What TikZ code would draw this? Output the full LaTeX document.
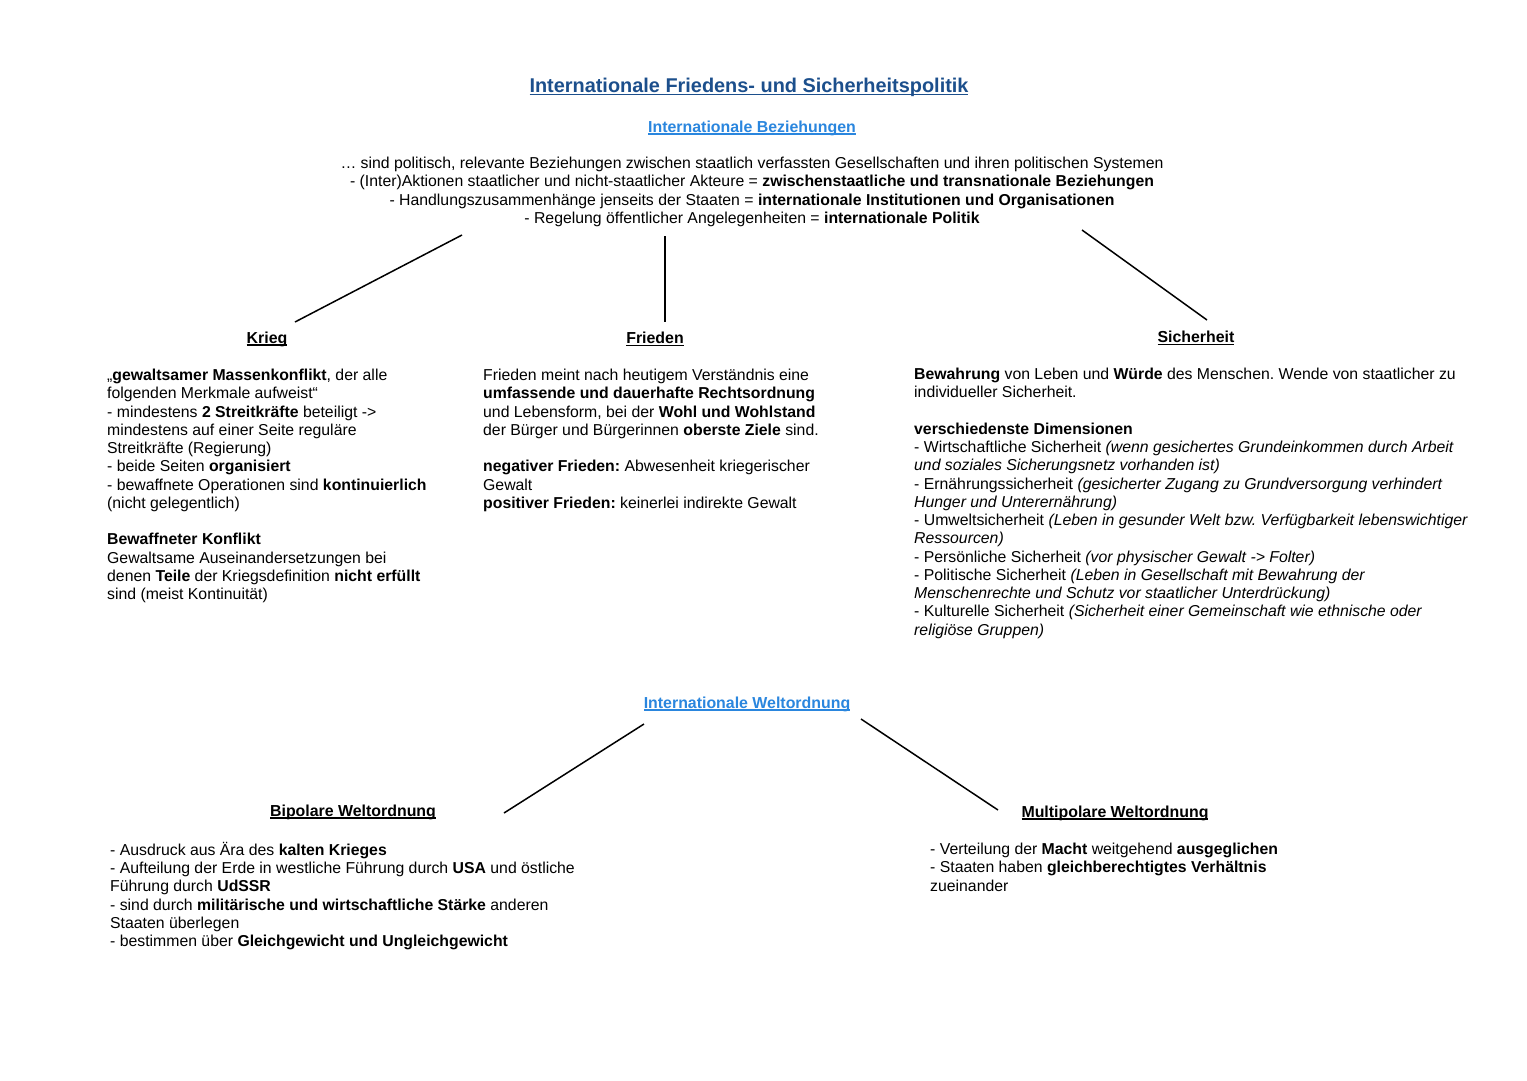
\documentclass[tikz,border=0pt]{standalone}
\usepackage{fontspec}
\setmainfont{Liberation Sans}
\frenchspacing
\definecolor{titleblue}{HTML}{1C4F8C}
\definecolor{subblue}{HTML}{2A86DE}
\newsavebox\ulbox
\newcommand\myul[2][1.4pt]{\sbox\ulbox{#2}\rlap{\rule[-2.8pt]{\wd\ulbox}{#1}}\usebox\ulbox}
\tikzset{
  body/.style={anchor=north west, inner sep=0pt, align=left, font=\fontsize{15.8}{18.25}\selectfont},
  intro/.style={anchor=north, inner sep=0pt, align=center, font=\fontsize{15.8}{18.2}\selectfont},
  head/.style={inner sep=0pt, font=\fontsize{15.9}{18}\selectfont\bfseries},
  bluehead/.style={head, text=subblue},
  link/.style={line width=1.5pt, black}
}
\begin{document}
\begin{tikzpicture}[x=1pt,y=-1pt]
\useasboundingbox[fill=white] (0,0) rectangle (1527,1080);

\node[inner sep=0pt, text=titleblue, font=\fontsize{19.9}{22}\selectfont\bfseries] (title) at (749,87) {\myul{Internationale Friedens- und Sicherheitspolitik}};
\node[bluehead] (ib) at (752,128) {\myul{Internationale Beziehungen}};

\node[intro] (introtext) at (752,157) {%
\dots\ sind politisch, relevante Beziehungen zwischen staatlich verfassten Gesellschaften und ihren politischen Systemen\\
- (Inter)Aktionen staatlicher und nicht-staatlicher Akteure = \textbf{zwischenstaatliche und transnationale Beziehungen}\\
- Handlungszusammenhänge jenseits der Staaten = \textbf{internationale Institutionen und Organisationen}\\
- Regelung öffentlicher Angelegenheiten = \textbf{internationale Politik}};

\node[head] (krieg) at (267,339) {\myul{Krieg}};
\node[head] (frieden) at (655,339) {\myul{Frieden}};
\node[head] (sicher) at (1196,338) {\myul{Sicherheit}};

\coordinate (k1) at (462,235); \coordinate (k2) at (295,322);
\coordinate (f1) at (665,236); \coordinate (f2) at (665,322);
\coordinate (s1) at (1082,230); \coordinate (s2) at (1207,320);
\draw[link] (k1) -- (k2);
\draw[link] (f1) -- (f2);
\draw[link] (s1) -- (s2);

\node[body] (kriegtext) at (107,369) {%
„\textbf{gewaltsamer Massenkonflikt}, der alle\\
folgenden Merkmale aufweist“\\
- mindestens \textbf{2 Streitkräfte} beteiligt ->\\
mindestens auf einer Seite reguläre\\
Streitkräfte (Regierung)\\
- beide Seiten \textbf{organisiert}\\
- bewaffnete Operationen sind \textbf{kontinuierlich}\\
(nicht gelegentlich)\\[18.25pt]
\textbf{Bewaffneter Konflikt}\\
Gewaltsame Auseinandersetzungen bei\\
denen \textbf{Teile} der Kriegsdefinition \textbf{nicht erfüllt}\\
sind (meist Kontinuität)};

\node[body] (friedentext) at (483,369) {%
Frieden meint nach heutigem Verständnis eine\\
\textbf{umfassende und dauerhafte Rechtsordnung}\\
und Lebensform, bei der \textbf{Wohl und Wohlstand}\\
der Bürger und Bürgerinnen \textbf{oberste Ziele} sind.\\[18.25pt]
\textbf{negativer Frieden:} Abwesenheit kriegerischer\\
Gewalt\\
\textbf{positiver Frieden:} keinerlei indirekte Gewalt};

\node[body] (sichertext) at (914,368) {%
\textbf{Bewahrung} von Leben und \textbf{Würde} des Menschen. Wende von staatlicher zu\\
individueller Sicherheit.\\[18.25pt]
\textbf{verschiedenste Dimensionen}\\
- Wirtschaftliche Sicherheit \textit{(wenn gesichertes Grundeinkommen durch Arbeit}\\
\textit{und soziales Sicherungsnetz vorhanden ist)}\\
- Ernährungssicherheit \textit{(gesicherter Zugang zu Grundversorgung verhindert}\\
\textit{Hunger und Unterernährung)}\\
- Umweltsicherheit \textit{(Leben in gesunder Welt bzw. Verfügbarkeit lebenswichtiger}\\
\textit{Ressourcen)}\\
- Persönliche Sicherheit \textit{(vor physischer Gewalt -> Folter)}\\
- Politische Sicherheit \textit{(Leben in Gesellschaft mit Bewahrung der}\\
\textit{Menschenrechte und Schutz vor staatlicher Unterdrückung)}\\
- Kulturelle Sicherheit \textit{(Sicherheit einer Gemeinschaft wie ethnische oder}\\
\textit{religiöse Gruppen)}};

\node[bluehead] (iw) at (747,704) {\myul{Internationale Weltordnung}};
\node[head] (bipol) at (353,812) {\myul{Bipolare Weltordnung}};
\node[head] (multipol) at (1115,813) {\myul{Multipolare Weltordnung}};

\coordinate (b1) at (644,724); \coordinate (b2) at (504,813);
\coordinate (m1) at (861,719); \coordinate (m2) at (998,810);
\draw[link] (b1) -- (b2);
\draw[link] (m1) -- (m2);

\node[body] (bipoltext) at (110,842) {%
- Ausdruck aus Ära des \textbf{kalten Krieges}\\
- Aufteilung der Erde in westliche Führung durch \textbf{USA} und östliche\\
Führung durch \textbf{UdSSR}\\
- sind durch \textbf{militärische und wirtschaftliche Stärke} anderen\\
Staaten überlegen\\
- bestimmen über \textbf{Gleichgewicht und Ungleichgewicht}};

\node[body] (multipoltext) at (930,843) {%
- Verteilung der \textbf{Macht} weitgehend \textbf{ausgeglichen}\\
- Staaten haben \textbf{gleichberechtigtes Verhältnis}\\
zueinander};
\end{tikzpicture}
\end{document}
